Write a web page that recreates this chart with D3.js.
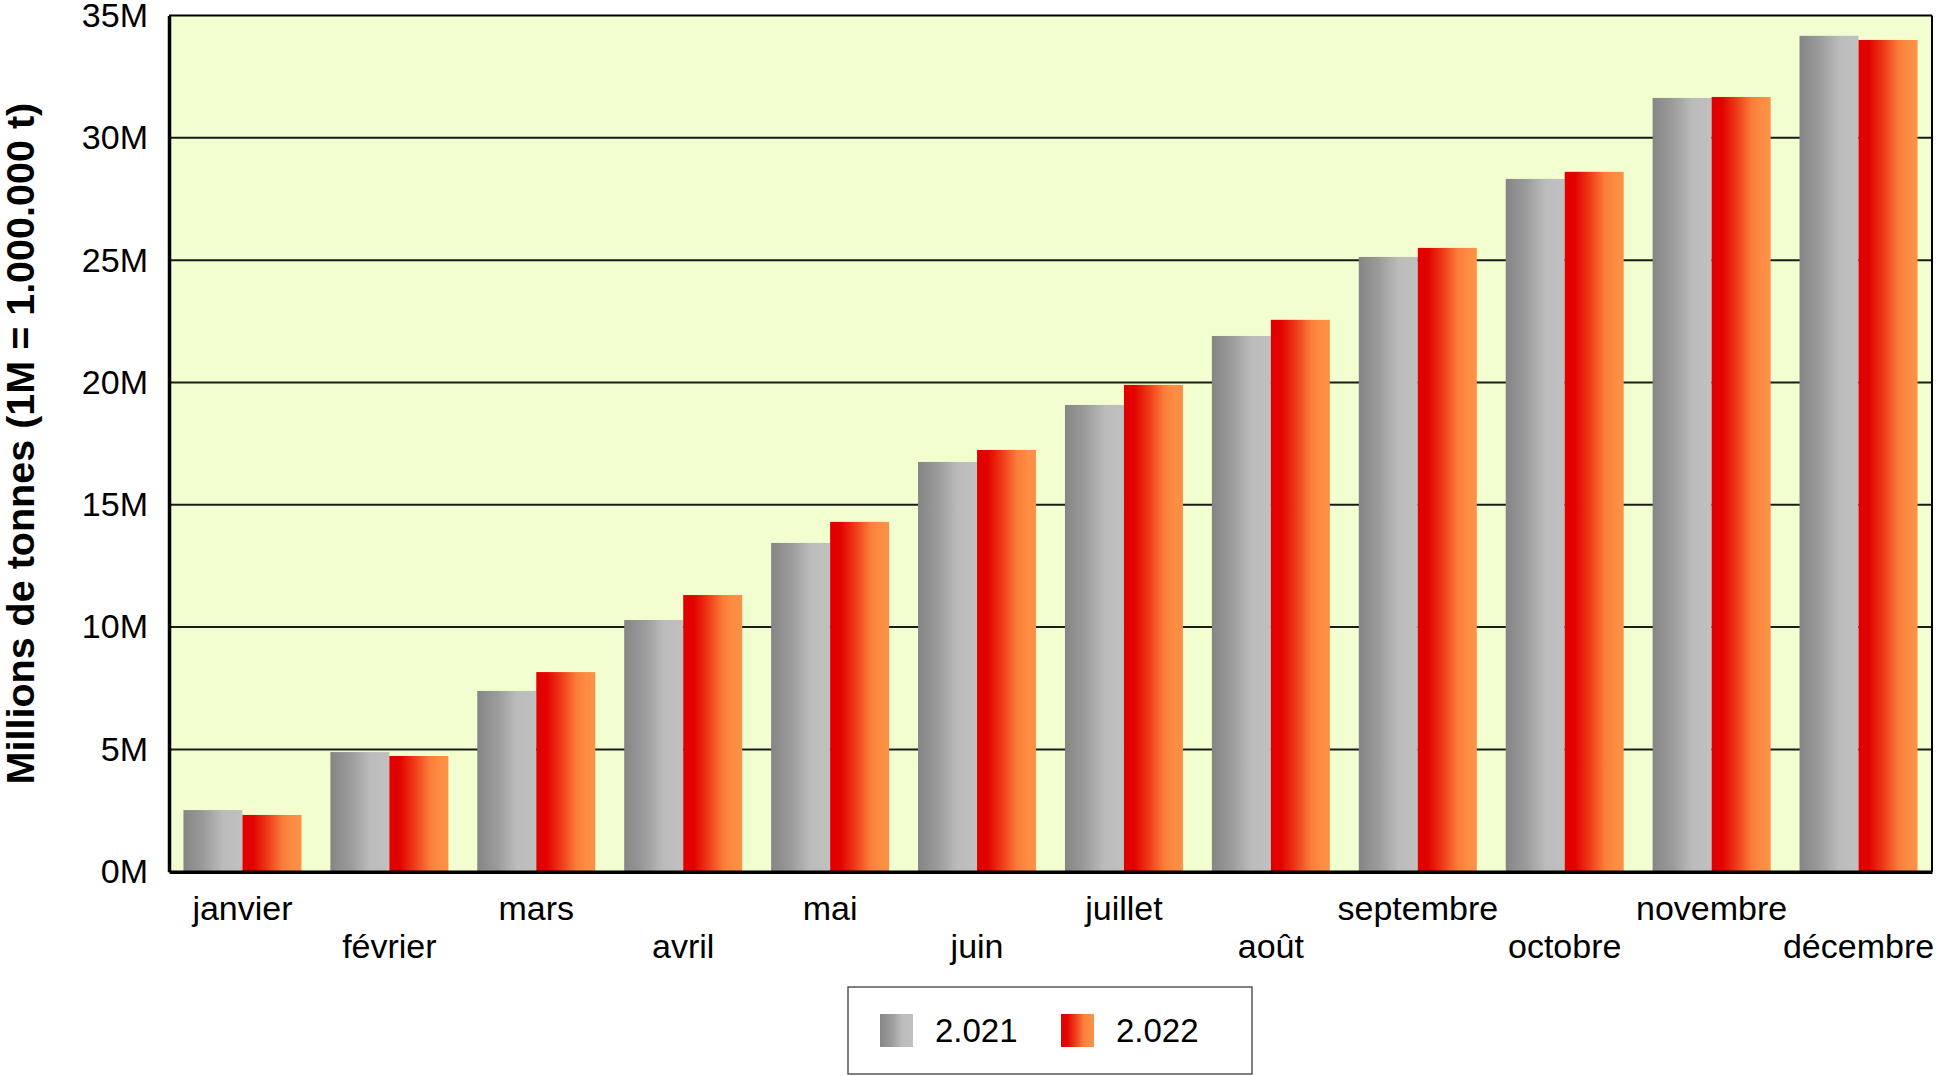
<!DOCTYPE html>
<html>
<head>
<meta charset="utf-8">
<script src="https://cdnjs.cloudflare.com/ajax/libs/d3/7.8.5/d3.min.js"></script>
<style>
  body { margin: 0; background: #fff; }
  text { font-family: "Liberation Sans", Arial, sans-serif; fill: #000; }
</style>
</head>
<body>
<div class="container"></div>
<script>
let months = ['janvier', 'février', 'mars', 'avril', 'mai', 'juin', 'juillet',
  'août', 'septembre', 'octobre', 'novembre', 'décembre'];
let seriesNames = ['2.021', '2.022'];
let values2021 = [2.52, 4.89, 7.39, 10.29, 13.44, 16.75, 19.08, 21.90, 25.13, 28.32, 31.63, 34.17];
let values2022 = [2.32, 4.73, 8.16, 11.31, 14.30, 17.24, 19.90, 22.56, 25.50, 28.61, 31.67, 34.00];
let yTicks = [0, 5, 10, 15, 20, 25, 30, 35];

let width = 1937,
    height = 1076,
    margin = { top: 15.5, right: 5, bottom: 204.3, left: 169 };

let plotW = width - margin.left - margin.right,
    plotH = height - margin.top - margin.bottom;

let rows = months.map((m, i) => ({ month: m, i: i, vals: [values2021[i], values2022[i]] }));

let svg = d3.select('.container')
  .append('svg')
  .attr('width', width)
  .attr('height', height);

let defs = svg.append('defs');

function gradient(id, stops) {
  let g = defs.append('linearGradient')
    .attr('id', id)
    .attr('x1', 0).attr('x2', 1).attr('y1', 0).attr('y2', 0);
  g.selectAll('stop')
    .data(stops)
    .enter()
    .append('stop')
    .attr('offset', d => d[0])
    .attr('stop-color', d => d[1]);
}
gradient('g2021', [[0, '#858585'], [0.35, '#9c9c9c'], [0.68, '#bcbcbc'], [1, '#c0c0c0']]);
gradient('g2022', [[0, '#e10000'], [0.18, '#e20300'], [0.42, '#ee3a17'], [0.68, '#fa7d3a'], [0.85, '#fc8d42'], [1, '#fd9145']]);
let fills = ['url(#g2021)', 'url(#g2022)'];

let x0 = d3.scaleBand()
  .domain(months)
  .range([0, plotW]);

let x1 = d3.scaleBand()
  .domain([0, 1])
  .range([0, x0.bandwidth()])
  .paddingOuter(0.245);

let yScale = d3.scaleLinear()
  .domain([0, 35])
  .range([plotH, 0]);

let g = svg.append('g')
  .attr('transform', `translate(${margin.left}, ${margin.top})`);

// plot background
g.append('rect')
  .attr('width', plotW)
  .attr('height', plotH)
  .attr('fill', '#f2fed0');

// gridlines
g.append('g')
  .selectAll('line')
  .data(yTicks.filter(d => d > 0 && d < 35))
  .enter()
  .append('line')
  .attr('x1', 0)
  .attr('x2', plotW)
  .attr('y1', d => yScale(d))
  .attr('y2', d => yScale(d))
  .attr('stroke', '#1a1a1a')
  .attr('stroke-width', 2);

// bars
let groups = g.selectAll('.month')
  .data(rows)
  .enter()
  .append('g')
  .attr('transform', d => `translate(${x0(d.month)}, 0)`);

groups.selectAll('rect')
  .data(d => d.vals)
  .enter()
  .append('rect')
  .attr('x', (d, i) => x1(i))
  .attr('y', d => yScale(d))
  .attr('width', x1.bandwidth())
  .attr('height', d => plotH - yScale(d))
  .attr('fill', (d, i) => fills[i]);

// frame
g.append('line')
  .attr('x1', 0).attr('x2', plotW)
  .attr('y1', 0).attr('y2', 0)
  .attr('stroke', '#000').attr('stroke-width', 2);
g.append('line')
  .attr('x1', plotW).attr('x2', plotW)
  .attr('y1', 0).attr('y2', plotH)
  .attr('stroke', '#000').attr('stroke-width', 2);

// y axis
let yAxis = d3.axisLeft(yScale)
  .tickValues(yTicks)
  .tickSize(0)
  .tickPadding(21)
  .tickFormat(d => d + 'M');

let yG = g.append('g').call(yAxis);
yG.select('.domain')
  .attr('stroke', '#000')
  .attr('stroke-width', 3.5);
yG.selectAll('text')
  .attr('font-size', 34)
  .attr('font-family', '"Liberation Sans", Arial, sans-serif');

// x axis
let xAxis = d3.axisBottom(x0)
  .tickSize(0)
  .tickPadding(0);

let xG = g.append('g')
  .attr('transform', `translate(0, ${plotH})`)
  .call(xAxis);
xG.select('.domain')
  .attr('stroke', '#000')
  .attr('stroke-width', 3.5);
xG.selectAll('text')
  .attr('font-size', 34)
  .attr('font-family', '"Liberation Sans", Arial, sans-serif')
  .attr('dy', null)
  .attr('y', (d, i) => i % 2 === 0 ? 48 : 86);

// y title
svg.append('text')
  .attr('transform', `translate(34, ${margin.top + plotH / 2}) rotate(-90)`)
  .attr('text-anchor', 'middle')
  .attr('font-size', 39.5)
  .attr('font-weight', 'bold')
  .text('Millions de tonnes (1M = 1.000.000 t)');

// legend
let legend = svg.append('g')
  .attr('transform', 'translate(848, 987)');

legend.append('rect')
  .attr('width', 404)
  .attr('height', 87)
  .attr('fill', '#fff')
  .attr('stroke', '#555')
  .attr('stroke-width', 1.5);

let items = legend.selectAll('.item')
  .data(seriesNames)
  .enter()
  .append('g')
  .attr('transform', (d, i) => `translate(${32 + i * 181}, 27)`);

items.append('rect')
  .attr('width', 33)
  .attr('height', 33)
  .attr('fill', (d, i) => fills[i]);

items.append('text')
  .attr('x', 55)
  .attr('y', 28)
  .attr('font-size', 33)
  .text(d => d);
</script>
</body>
</html>
